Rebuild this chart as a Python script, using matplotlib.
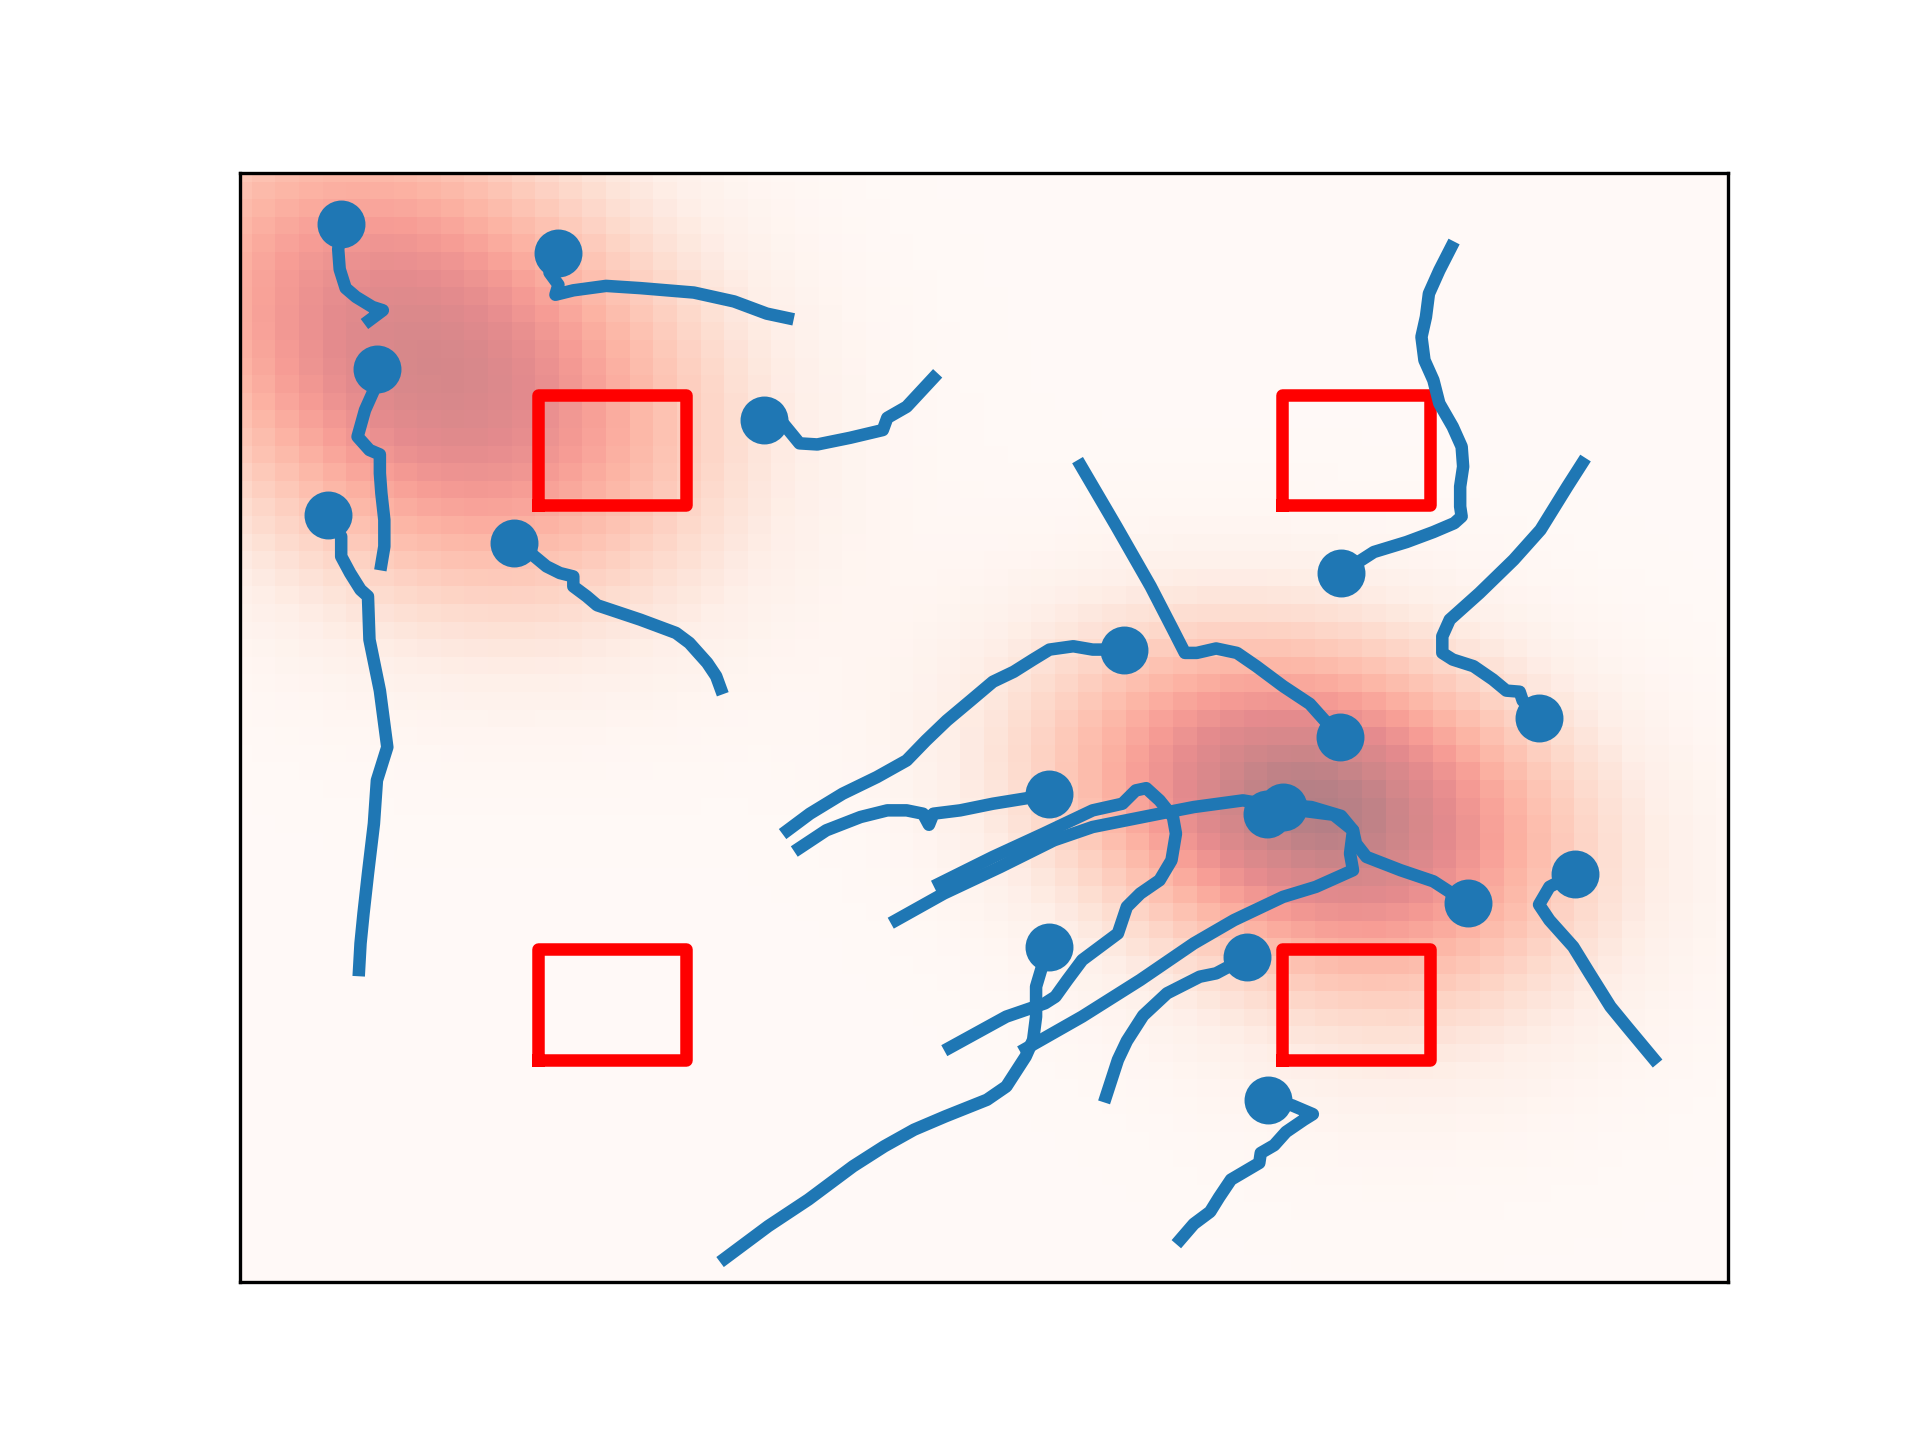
import numpy as np
import matplotlib
matplotlib.use('Agg')
import matplotlib.pyplot as plt

blob_cx = [1.65, 0.5, 7.0, 7.8]
blob_cy = [7.85, 9.3, 4.45, 3.6]
blob_sx = [1.15, 1.1, 1.15, 1.0]
blob_sy = [1.3, 1.3, 1.0, 1.2]
blob_rho = [-0.1, 0.0, -0.2, 0.0]
blob_peak = [0.68, 0.4, 0.8, 0.3]
n_grid = 64

# Obstaculos (esquina inferior esquerda, lado 1)
rect_x = [2, 7, 2, 7]
rect_y = [7, 7, 2, 2]

# Traxectorias: o primeiro punto leva o marcador
t01 = [(0.68, 9.54), (0.66, 9.31), (0.67, 9.13), (0.71, 8.96), (0.78, 8.88), (0.89, 8.79), (0.96, 8.76), (0.87, 8.67)]
t02 = [(0.92, 8.23), (0.90, 8.04), (0.84, 7.86), (0.79, 7.62), (0.87, 7.50), (0.94, 7.46), (0.94, 7.29),
       (0.95, 7.11), (0.97, 6.87), (0.97, 6.63), (0.95, 6.47)]
t03 = [(0.59, 6.91), (0.68, 6.72), (0.68, 6.54), (0.74, 6.39), (0.81, 6.24), (0.86, 6.18), (0.87, 5.79),
       (0.94, 5.33), (0.99, 4.82), (0.92, 4.52), (0.90, 4.13), (0.86, 3.68), (0.83, 3.32), (0.81, 3.05), (0.80, 2.81)]
t04 = [(2.14, 9.28), (2.08, 9.10), (2.14, 8.99), (2.12, 8.90), (2.24, 8.94), (2.46, 8.98), (2.69, 8.96),
       (3.05, 8.92), (3.32, 8.84), (3.54, 8.73), (3.68, 8.69)]
t05 = [(3.52, 7.77), (3.65, 7.74), (3.76, 7.56), (3.88, 7.55), (4.10, 7.61), (4.32, 7.68), (4.35, 7.79),
       (4.48, 7.89), (4.66, 8.15)]
t06 = [(1.84, 6.66), (1.97, 6.55), (2.06, 6.45), (2.15, 6.39), (2.24, 6.36), (2.24, 6.27), (2.33, 6.18),
       (2.40, 6.10), (2.69, 5.97), (2.93, 5.85), (3.02, 5.76), (3.14, 5.58), (3.20, 5.46), (3.23, 5.35)]
t07 = [(7.40, 6.39), (7.62, 6.58), (7.84, 6.67), (8.02, 6.76), (8.16, 6.84), (8.21, 6.90), (8.20, 6.99),
       (8.20, 7.17), (8.22, 7.35), (8.21, 7.53), (8.15, 7.71), (8.06, 7.92), (8.02, 8.13), (7.96, 8.31),
       (7.94, 8.52), (7.97, 8.70), (7.99, 8.91), (8.06, 9.12), (8.14, 9.33)]
t08 = [(8.73, 5.08), (8.62, 5.24), (8.60, 5.32), (8.51, 5.33), (8.42, 5.43), (8.29, 5.55), (8.15, 5.61),
       (8.08, 5.67), (8.08, 5.82), (8.13, 5.97), (8.33, 6.21), (8.56, 6.51), (8.74, 6.78), (8.92, 7.17), (9.02, 7.38)]
t09 = [(7.39, 4.91), (7.19, 5.21), (7.01, 5.37), (6.83, 5.55), (6.70, 5.67), (6.56, 5.71), (6.43, 5.67),
       (6.35, 5.67), (6.27, 5.88), (6.12, 6.27), (5.89, 6.81), (5.65, 7.36)]
t10 = [(5.94, 5.70), (5.73, 5.70), (5.60, 5.73), (5.44, 5.70), (5.33, 5.61), (5.20, 5.50), (5.06, 5.41),
       (4.91, 5.24), (4.75, 5.06), (4.61, 4.88), (4.48, 4.70), (4.28, 4.55), (4.05, 4.40), (3.83, 4.22), (3.68, 4.07)]
t11 = [(5.44, 4.40), (5.29, 4.36), (5.06, 4.31), (4.84, 4.25), (4.66, 4.22), (4.63, 4.12), (4.59, 4.22),
       (4.48, 4.25), (4.35, 4.25), (4.17, 4.19), (3.94, 4.07), (3.76, 3.91)]
t12 = [(7.01, 4.28), (6.74, 4.34), (6.41, 4.28), (6.18, 4.22), (5.73, 4.10), (5.47, 3.98), (5.11, 3.74),
       (4.73, 3.50), (4.41, 3.26)]
t13 = [(5.44, 3.02), (5.39, 2.84), (5.35, 2.66), (5.35, 2.39), (5.33, 2.18), (5.28, 2.03), (5.15, 1.76),
       (5.02, 1.64), (4.74, 1.49), (4.53, 1.37), (4.33, 1.22), (4.12, 1.04), (3.82, 0.74), (3.55, 0.50), (3.26, 0.21)]
t14 = [(6.90, 4.22), (7.12, 4.25), (7.35, 4.21), (7.48, 4.07), (7.46, 3.86), (7.48, 3.71), (7.23, 3.56),
       (7.01, 3.47), (6.68, 3.26), (6.41, 3.05), (6.05, 2.72), (5.66, 2.39), (5.28, 2.10)]
t15 = [(4.70, 3.59), (5.06, 3.83), (5.40, 4.04), (5.73, 4.25), (5.93, 4.31), (6.02, 4.43), (6.09, 4.45),
       (6.18, 4.34), (6.27, 4.19), (6.29, 4.04), (6.26, 3.80), (6.18, 3.62), (6.05, 3.50), (5.96, 3.38),
       (5.90, 3.14), (5.66, 2.90), (5.56, 2.72), (5.48, 2.57), (5.41, 2.51), (5.15, 2.39), (4.77, 2.11)]
t16 = [(6.77, 2.93), (6.56, 2.78), (6.45, 2.75), (6.23, 2.60), (6.07, 2.40), (5.96, 2.17), (5.90, 2.00), (5.82, 1.67)]
t17 = [(6.91, 1.64), (7.07, 1.59), (7.21, 1.51), (7.15, 1.46), (7.03, 1.35), (6.95, 1.23), (6.86, 1.16),
       (6.85, 1.07), (6.66, 0.92), (6.58, 0.76), (6.52, 0.63), (6.41, 0.52), (6.32, 0.38)]
t18 = [(8.97, 3.68), (8.80, 3.56), (8.73, 3.40), (8.80, 3.26), (8.96, 3.02), (9.07, 2.78), (9.21, 2.48),
       (9.32, 2.30), (9.50, 2.01)]
t19 = [(8.25, 3.41), (8.02, 3.61), (7.80, 3.71), (7.57, 3.83), (7.50, 3.95), (7.48, 4.07), (7.40, 4.20),
       (7.20, 4.28), (7.00, 4.30)]

marked = [t01, t02, t03, t04, t05, t06, t07, t08, t09, t10, t11, t12, t13, t14, t16, t17, t18, t19]
unmarked = [t15]

# Campo do mapa de calor
gx = np.linspace(0, 10, n_grid)
gy = np.linspace(0, 10, n_grid)
X, Y = np.meshgrid(gx, gy)
Z = np.zeros_like(X)
for cx, cy, sx, sy, r, a in zip(blob_cx, blob_cy, blob_sx, blob_sy, blob_rho, blob_peak):
    u = (X - cx) / sx
    v = (Y - cy) / sy
    Z += a * np.exp(-(u * u - 2 * r * u * v + v * v) / (2 * (1 - r * r)))

fig, ax = plt.subplots(figsize=(6.4, 4.8), dpi=300)
ax.pcolormesh(X, Y, Z, cmap='Reds', vmin=0, vmax=1, alpha=0.5, shading='nearest', antialiased=True)

# Obstaculos
for x0, y0 in zip(rect_x, rect_y):
    ax.plot([x0, x0 + 1, x0 + 1, x0, x0], [y0, y0, y0 + 1, y0 + 1, y0], color='red', lw=3)

# Traxectorias
for t in marked + unmarked:
    xs, ys = zip(*t)
    ax.plot(xs, ys, color='C0', lw=3)
for t in marked:
    ax.plot(t[0][0], t[0][1], 'o', color='C0', ms=10.5)

ax.set_xlim(0, 10)
ax.set_ylim(0, 10)
ax.set_xticks([])
ax.set_yticks([])
fig.savefig('out.png')
